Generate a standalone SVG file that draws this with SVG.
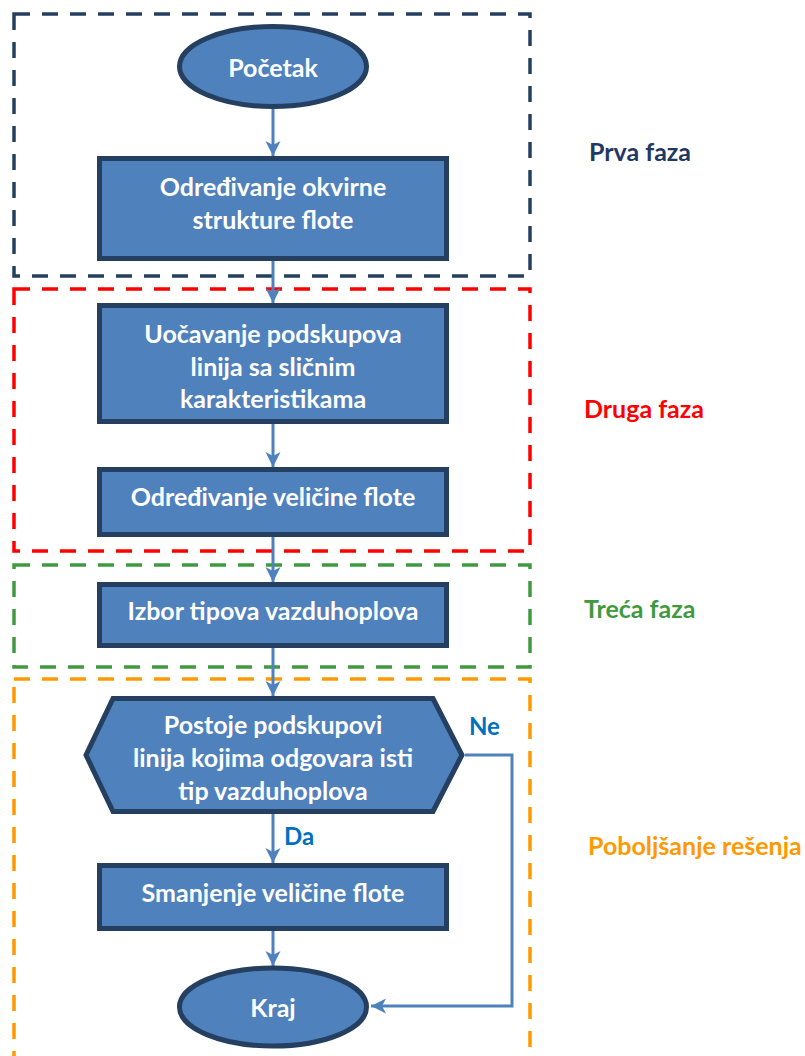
<svg xmlns="http://www.w3.org/2000/svg" width="805" height="1056" viewBox="0 0 805 1056">
<defs>
<style>
.phase{fill:none;stroke-width:3.5;stroke-dasharray:16 12}
.node{fill:#4F81BD;stroke:#243F60;stroke-width:5}
.nt{font-family:Lato,"Open Sans",sans-serif;font-weight:bold;font-size:25px;fill:#FFFFFF;text-anchor:middle}
.lbl{font-family:Lato,"Open Sans",sans-serif;font-weight:bold;font-size:25px}
.yn{font-family:Lato,"Open Sans",sans-serif;font-weight:bold;font-size:24px;fill:#0070C0}
.conn{fill:none;stroke:#4F81BD;stroke-width:3}
</style>
<marker id="ah" markerUnits="userSpaceOnUse" markerWidth="16" markerHeight="16" viewBox="0 -8 16 16" refX="15" refY="0" orient="auto">
<path d="M0,-7.5 L15,0 L0,7.5 L4,0 Z" fill="#4F81BD"/>
</marker>
</defs>
<g id="phases">
<rect class="phase" x="14" y="14" width="516" height="262" stroke="#243F60"/>
<rect class="phase" x="14" y="289" width="516" height="262" stroke="#FF0000"/>
<rect class="phase" x="14" y="565" width="516" height="102" stroke="#3F9A3F"/>
<rect class="phase" x="14" y="679" width="516" height="420" stroke="#FF9900"/>
</g>
<g id="phase-labels">
<text class="lbl" x="589" y="161" fill="#1F3864">Prva faza</text>
<text class="lbl" x="584" y="418" fill="#FF0000">Druga faza</text>
<text class="lbl" x="584" y="618" fill="#3F9A3F">Treća faza</text>
<text class="lbl" x="588" y="855" fill="#FF9900">Poboljšanje rešenja</text>
</g>
<g id="connectors">
<line class="conn" x1="273" y1="109" x2="273" y2="156" marker-end="url(#ah)"/>
<line class="conn" x1="273" y1="261" x2="273" y2="303" marker-end="url(#ah)"/>
<line class="conn" x1="273" y1="424" x2="273" y2="467" marker-end="url(#ah)"/>
<line class="conn" x1="273" y1="537" x2="273" y2="582" marker-end="url(#ah)"/>
<line class="conn" x1="273" y1="648" x2="273" y2="696" marker-end="url(#ah)"/>
<line class="conn" x1="273" y1="814" x2="273" y2="863" marker-end="url(#ah)"/>
<line class="conn" x1="273" y1="931" x2="273" y2="966" marker-end="url(#ah)"/>
<polyline class="conn" points="465,755 512,755 512,1006 371,1006" marker-end="url(#ah)"/>
<text class="yn" x="469" y="735">Ne</text>
<text class="yn" x="284" y="845">Da</text>
</g>
<g id="start">
<ellipse class="node" cx="273" cy="66.5" rx="93.5" ry="40"/>
<text class="nt" x="273" y="77">Početak</text>
</g>
<g id="n1">
<rect class="node" x="99.5" y="158.5" width="347" height="100"/>
<text class="nt" x="273" y="196">Određivanje okvirne</text>
<text class="nt" x="273" y="229">strukture flote</text>
</g>
<g id="n2">
<rect class="node" x="99.5" y="305.5" width="347" height="116"/>
<text class="nt" x="273" y="343">Uočavanje podskupova</text>
<text class="nt" x="273" y="376">linija sa sličnim</text>
<text class="nt" x="273" y="408">karakteristikama</text>
</g>
<g id="n3">
<rect class="node" x="99.5" y="469.5" width="347" height="65"/>
<text class="nt" x="273" y="506">Određivanje veličine flote</text>
</g>
<g id="n4">
<rect class="node" x="99.5" y="584.5" width="347" height="61"/>
<text class="nt" x="273" y="620">Izbor tipova vazduhoplova</text>
</g>
<g id="decision">
<polygon class="node" points="86,755 113,698.5 433,698.5 462,755 433,811.5 113,811.5"/>
<text class="nt" x="273" y="734">Postoje podskupovi</text>
<text class="nt" x="273" y="767">linija kojima odgovara isti</text>
<text class="nt" x="273" y="800">tip vazduhoplova</text>
</g>
<g id="n5">
<rect class="node" x="99.5" y="865.5" width="347" height="63"/>
<text class="nt" x="273" y="902">Smanjenje veličine flote</text>
</g>
<g id="end">
<ellipse class="node" cx="273" cy="1007" rx="93.5" ry="39"/>
<text class="nt" x="273" y="1017">Kraj</text>
</g>
</svg>
